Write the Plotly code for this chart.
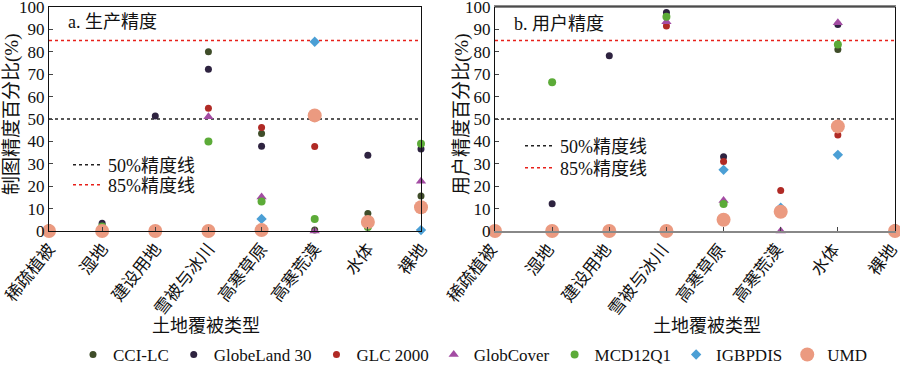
import plotly.graph_objects as go

categories = ["稀疏植被", "湿地", "建设用地", "雪被与冰川", "高寒草原", "高寒荒漠", "水体", "裸地"]
series_names = ["CCI-LC", "GlobeLand 30", "GLC 2000", "GlobCover", "MCD12Q1", "IGBPDIS", "UMD"]

# a. 生产精度 (producer accuracy, %)
prod_cci = [1.5, None, None, 80, 43.5, 0.5, 7.8, 15.6]
prod_gl30 = [None, 3.5, 51.3, 72.2, 37.8, None, 33.8, 36.6]
prod_glc = [None, None, None, 54.8, 46.2, 37.7, None, None]
prod_globcover = [None, None, None, 51.0, 15.2, 0, 4.0, 22.2]
prod_mcd = [None, 2.0, None, 39.9, 13.2, 5.4, 1.8, 39.0]
prod_igbp = [None, None, None, None, 5.4, 84.5, None, 0.4]
prod_umd = [0, 0, 0, 0, 0.4, 51.6, 4.0, 10.6]

# b. 用户精度 (user accuracy, %)
user_cci = [1.0, None, None, None, None, None, 81.0, None]
user_gl30 = [None, 12.2, 78.2, 97.6, 33.2, None, 92.2, 1.5]
user_glc = [None, None, None, 91.5, 31.0, 18.1, 42.9, None]
user_globcover = [None, None, None, 93.4, 13.6, 0, 93.0, None]
user_mcd = [None, 66.4, None, 95.7, 12.0, None, 83.3, 0.5]
user_igbp = [None, None, None, None, 27.3, 10.4, 34.0, None]
user_umd = [0, 0, 0, 0, 5.0, 8.6, 46.7, 0]

y_ticks = [0, 10, 20, 30, 40, 50, 60, 70, 80, 90, 100]
thresholds = [50, 85]
threshold_names = ["50%精度线", "85%精度线"]

prod = [prod_cci, prod_gl30, prod_glc, prod_globcover, prod_mcd, prod_igbp, prod_umd]
user = [user_cci, user_gl30, user_glc, user_globcover, user_mcd, user_igbp, user_umd]

colors = ["#3f4d29", "#2e2340", "#b02a25", "#a34ca3", "#5cab38", "#4b9fd5", "#eb9a80"]
symbols = ["circle", "circle", "circle", "triangle-up", "circle", "diamond", "circle"]
sizes = [7, 7, 7, 9, 8, 8, 14]
thr_colors = ["#222222", "#e8201a"]

FONT = "Liberation Serif, Times New Roman, Noto Sans CJK SC, serif"

fig = go.Figure()

# threshold lines, each with its own small legend inside the panel
thr_legends = [("x", "y", ["legend2", "legend3"]), ("x2", "y2", ["legend4", "legend5"])]
for xa, ya, legs in thr_legends:
    for t, name, c, leg in zip(thresholds, threshold_names, thr_colors, legs):
        fig.add_trace(go.Scatter(
            x=[categories[0], categories[-1]], y=[t, t], mode="lines",
            line=dict(color=c, width=1.5, dash="dot"), name=name,
            xaxis=xa, yaxis=ya, legend=leg, showlegend=True, hoverinfo="skip"))

for i, name in enumerate(series_names):
    for xa, ya, data, show in [("x", "y", prod, True), ("x2", "y2", user, False)]:
        fig.add_trace(go.Scatter(
            x=categories, y=data[i], mode="markers", name=name,
            marker=dict(color=colors[i], symbol=symbols[i], size=sizes[i], line=dict(width=0)),
            xaxis=xa, yaxis=ya, legend="legend", showlegend=show, legendgroup=name,
            cliponaxis=False))

xcommon = dict(type="category", categoryorder="array", categoryarray=categories,
               range=[0, 7], tickangle=-52, ticks="inside", ticklen=4, automargin=False,
               tickfont=dict(family=FONT, size=17, color="#111"), ticklabeloverflow="allow",
               showgrid=False, zeroline=False, showline=True, mirror=True)
ycommon = dict(range=[0, 100], tickvals=y_ticks, ticks="inside", ticklen=4, automargin=False,
               tickfont=dict(family=FONT, size=17, color="#111"), ticklabeloverflow="allow",
               showgrid=False, zeroline=False, showline=True, mirror=True,
               linecolor="#111", linewidth=1.2)

top = 1 - 7 / 367
bot = 1 - 231 / 367


def small_legend(xpx, ypx):
    return dict(x=xpx / 900, xanchor="left", y=1 - ypx / 367, yanchor="middle",
                font=dict(family=FONT, size=18), bgcolor="rgba(0,0,0,0)", itemwidth=30)


fig.update_layout(
    width=900, height=367,
    margin=dict(l=0, r=0, t=0, b=0, autoexpand=False),
    paper_bgcolor="white", plot_bgcolor="white",
    font=dict(family=FONT, size=18, color="#111"),
    xaxis=dict(domain=[49 / 900, 421 / 900], anchor="y", linecolor="#111", linewidth=1.2,
               ticklabelshift=0, **xcommon),
    yaxis=dict(domain=[bot, top], anchor="x", **ycommon),
    xaxis2=dict(domain=[495 / 900, 895 / 900], anchor="y2", linecolor="#888", linewidth=1.5,
                ticklabelshift=-4, **xcommon),
    yaxis2=dict(domain=[bot, top], anchor="x2", **ycommon),
    legend=dict(orientation="h", x=0.525, xanchor="center", y=1 - 355 / 367, yanchor="middle",
                font=dict(family=FONT, size=17), bgcolor="rgba(0,0,0,0)", itemwidth=30,
                tracegroupgap=0),
    legend2=small_legend(68, 165),
    legend3=small_legend(68, 185),
    legend4=small_legend(520, 146),
    legend5=small_legend(520, 168),
    showlegend=True,
)

# top border of panel b (black) over grey x-axis mirror
fig.add_shape(type="line", xref="x2 domain", yref="y2 domain", x0=0, x1=1, y0=1, y1=1,
              line=dict(color="#111", width=1.2))

annots = [
    dict(text="a. 生产精度", x=66 / 900, y=1 - 22 / 367, xanchor="left", yanchor="middle", size=18, angle=0),
    dict(text="b. 用户精度", x=512 / 900, y=1 - 24 / 367, xanchor="left", yanchor="middle", size=18, angle=0),
    dict(text="制图精度百分比(%)", x=12 / 900, y=1 - 115 / 367, xanchor="center", yanchor="middle", size=19, angle=-90),
    dict(text="用户精度百分比(%)", x=462 / 900, y=1 - 115 / 367, xanchor="center", yanchor="middle", size=19, angle=-90),
    dict(text="土地覆被类型", x=206 / 900, y=1 - 326 / 367, xanchor="center", yanchor="middle", size=18, angle=0),
    dict(text="土地覆被类型", x=707 / 900, y=1 - 326 / 367, xanchor="center", yanchor="middle", size=18, angle=0),
]
for a in annots:
    fig.add_annotation(text=a["text"], x=a["x"], y=a["y"], xref="paper", yref="paper",
                       xanchor=a["xanchor"], yanchor=a["yanchor"], showarrow=False,
                       textangle=a["angle"], font=dict(family=FONT, size=a["size"], color="#111"))

fig.write_html("out.html", config={"displayModeBar": False},
               post_script="document.body.style.margin='0';document.body.style.overflow='hidden';")
